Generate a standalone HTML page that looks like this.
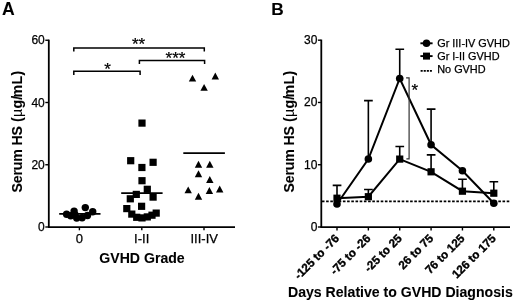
<!DOCTYPE html><html><head><meta charset="utf-8"><style>html,body{margin:0;padding:0;background:#fff;}svg{display:block;will-change:transform;filter:grayscale(1);font-family:"Liberation Sans",sans-serif;}text{font-family:"Liberation Sans",sans-serif;fill:#000;stroke:#000;stroke-width:0.25px;}text[font-weight=bold]{stroke-width:0.08px;}</style></head><body>
<svg width="520" height="306" viewBox="0 0 520 306">
<rect width="520" height="306" fill="#fff"/>
<text x="2" y="14.6" font-size="17.6" font-weight="bold">A</text>
<path d="M48.8 39.65 V227.7 " stroke="#000" stroke-width="1.8" fill="none"/>
<path d="M48.099999999999994 227.1 H235" stroke="#000" stroke-width="1.8" fill="none"/>
<path d="M45.3 227.00 H48.8" stroke="#000" stroke-width="1.4"/>
<text x="44.8" y="230.70" font-size="12" text-anchor="end">0</text>
<path d="M45.3 164.75 H48.8" stroke="#000" stroke-width="1.4"/>
<text x="44.8" y="168.75" font-size="12" text-anchor="end">20</text>
<path d="M45.3 102.50 H48.8" stroke="#000" stroke-width="1.4"/>
<text x="44.8" y="106.50" font-size="12" text-anchor="end">40</text>
<path d="M45.3 40.25 H48.8" stroke="#000" stroke-width="1.4"/>
<text x="44.8" y="44.25" font-size="12" text-anchor="end">60</text>
<path d="M79.4 227.1 V230.3" stroke="#000" stroke-width="1.4"/>
<path d="M141.8 227.1 V230.3" stroke="#000" stroke-width="1.4"/>
<path d="M204.0 227.1 V230.3" stroke="#000" stroke-width="1.4"/>
<text x="79.4" y="243.1" font-size="13" text-anchor="middle">0</text>
<text x="141.7" y="243.1" font-size="13" text-anchor="middle">I-II</text>
<text x="204.2" y="243.1" font-size="13" text-anchor="middle">III-IV</text>
<text x="142" y="263" font-size="14.1" font-weight="bold" text-anchor="middle">GVHD Grade</text>
<text transform="translate(22.3,192.4) rotate(-90)" font-size="14.1" font-weight="bold" text-anchor="start" letter-spacing="-0.15">Serum HS</text>
<text transform="translate(22.3,122.0) rotate(-90)" font-size="14.1" font-weight="bold" text-anchor="start" letter-spacing="0.3">(<tspan font-weight="normal">µ</tspan>g/</text>
<text transform="translate(22.3,70.3) rotate(-90)" font-size="14.1" font-weight="bold" text-anchor="end" letter-spacing="0.45">mL)</text>
<path d="M73.8 51.5 V47.9 H204.3 V51.5" stroke="#000" stroke-width="1.5" fill="none"/>
<path d="M139.4 64.1 V60.5 H204.6 V64.1" stroke="#000" stroke-width="1.5" fill="none"/>
<path d="M73.8 74.89999999999999 V71.3 H140.1 V74.89999999999999" stroke="#000" stroke-width="1.5" fill="none"/>
<text x="138.6" y="50" font-size="17" text-anchor="middle">**</text>
<text x="175.5" y="64.4" font-size="17" text-anchor="middle">***</text>
<text x="107.6" y="75" font-size="17" text-anchor="middle">*</text>
<circle cx="66.6" cy="214.3" r="3.7"/>
<circle cx="74.1" cy="211.1" r="3.7"/>
<circle cx="70.7" cy="215.7" r="3.7"/>
<circle cx="76.7" cy="218.1" r="3.7"/>
<circle cx="82.1" cy="217.7" r="3.7"/>
<circle cx="85.3" cy="207.6" r="3.7"/>
<circle cx="87.5" cy="215.5" r="3.7"/>
<circle cx="92.7" cy="211.7" r="3.7"/>
<circle cx="75" cy="214.6" r="3.7"/>
<path d="M59.2 213.8 H100.5" stroke="#000" stroke-width="1.7"/>
<rect x="127.10" y="157.10" width="7.2" height="7.2"/>
<rect x="138.30" y="163.90" width="7.2" height="7.2"/>
<rect x="149.50" y="158.70" width="7.2" height="7.2"/>
<rect x="138.40" y="177.10" width="7.2" height="7.2"/>
<rect x="143.70" y="185.70" width="7.2" height="7.2"/>
<rect x="132.70" y="190.80" width="7.2" height="7.2"/>
<rect x="126.70" y="195.20" width="7.2" height="7.2"/>
<rect x="149.50" y="193.50" width="7.2" height="7.2"/>
<rect x="138.00" y="202.70" width="7.2" height="7.2"/>
<rect x="123.20" y="205.00" width="7.2" height="7.2"/>
<rect x="152.60" y="209.50" width="7.2" height="7.2"/>
<rect x="128.20" y="210.50" width="7.2" height="7.2"/>
<rect x="148.40" y="211.60" width="7.2" height="7.2"/>
<rect x="133.10" y="213.70" width="7.2" height="7.2"/>
<rect x="138.40" y="214.30" width="7.2" height="7.2"/>
<rect x="143.70" y="213.30" width="7.2" height="7.2"/>
<rect x="138.40" y="119.50" width="7.2" height="7.2"/>
<path d="M121.2 193.1 H162.6" stroke="#000" stroke-width="1.7"/>
<path d="M192.5 74.7 L196.2 81.60000000000001 H188.8 Z"/>
<path d="M204.1 83.9 L207.79999999999998 90.80000000000001 H200.4 Z"/>
<path d="M215.3 72.6 L219.0 79.5 H211.60000000000002 Z"/>
<path d="M198.5 160.8 L202.2 167.70000000000002 H194.8 Z"/>
<path d="M209.8 160.8 L213.5 167.70000000000002 H206.10000000000002 Z"/>
<path d="M198.5 170.3 L202.2 177.20000000000002 H194.8 Z"/>
<path d="M209.8 176 L213.5 182.9 H206.10000000000002 Z"/>
<path d="M188.2 186.4 L191.89999999999998 193.3 H184.5 Z"/>
<path d="M209.4 187 L213.1 193.9 H205.70000000000002 Z"/>
<path d="M219.7 185.6 L223.39999999999998 192.5 H216.0 Z"/>
<path d="M198.5 192.8 L202.2 199.70000000000002 H194.8 Z"/>
<path d="M183.3 153.2 H224.9" stroke="#000" stroke-width="1.7"/>
<text x="271.3" y="14.6" font-size="17.3" font-weight="bold">B</text>
<path d="M321.3 39.589999999999996 V227.7" stroke="#000" stroke-width="1.8" fill="none"/>
<path d="M320.6 227.1 H510" stroke="#000" stroke-width="1.8" fill="none"/>
<path d="M317.9 227.00 H321.3" stroke="#000" stroke-width="1.4"/>
<text x="317.4" y="230.70" font-size="12" text-anchor="end">0</text>
<path d="M317.9 164.73 H321.3" stroke="#000" stroke-width="1.4"/>
<text x="317.4" y="168.73" font-size="12" text-anchor="end">10</text>
<path d="M317.9 102.46 H321.3" stroke="#000" stroke-width="1.4"/>
<text x="317.4" y="106.46" font-size="12" text-anchor="end">20</text>
<path d="M317.9 40.19 H321.3" stroke="#000" stroke-width="1.4"/>
<text x="317.4" y="44.19" font-size="12" text-anchor="end">30</text>
<path d="M337.00 227.1 V230.5" stroke="#000" stroke-width="1.4"/>
<text transform="translate(339.90,239.1) rotate(-45)" font-size="11.7" font-weight="bold" style="stroke-width:0.35px" text-anchor="end">-125 to -76</text>
<path d="M368.36 227.1 V230.5" stroke="#000" stroke-width="1.4"/>
<text transform="translate(371.26,239.1) rotate(-45)" font-size="11.7" font-weight="bold" style="stroke-width:0.35px" text-anchor="end">-75 to -26</text>
<path d="M399.72 227.1 V230.5" stroke="#000" stroke-width="1.4"/>
<text transform="translate(402.62,239.1) rotate(-45)" font-size="11.7" font-weight="bold" style="stroke-width:0.35px" text-anchor="end">-25 to 25</text>
<path d="M431.08 227.1 V230.5" stroke="#000" stroke-width="1.4"/>
<text transform="translate(433.98,239.1) rotate(-45)" font-size="11.7" font-weight="bold" style="stroke-width:0.35px" text-anchor="end">26 to 75</text>
<path d="M462.44 227.1 V230.5" stroke="#000" stroke-width="1.4"/>
<text transform="translate(465.34,239.1) rotate(-45)" font-size="11.7" font-weight="bold" style="stroke-width:0.35px" text-anchor="end">76 to 125</text>
<path d="M493.80 227.1 V230.5" stroke="#000" stroke-width="1.4"/>
<text transform="translate(496.70,239.1) rotate(-45)" font-size="11.7" font-weight="bold" style="stroke-width:0.35px" text-anchor="end">126 to 175</text>
<text x="400.4" y="297.1" font-size="14.1" font-weight="bold" text-anchor="middle">Days Relative to GVHD Diagnosis</text>
<text transform="translate(294.2,192.4) rotate(-90)" font-size="14.1" font-weight="bold" text-anchor="start" letter-spacing="-0.15">Serum HS</text>
<text transform="translate(294.2,122.0) rotate(-90)" font-size="14.1" font-weight="bold" text-anchor="start" letter-spacing="0.3">(<tspan font-weight="normal">µ</tspan>g/</text>
<text transform="translate(294.2,70.3) rotate(-90)" font-size="14.1" font-weight="bold" text-anchor="end" letter-spacing="0.45">mL)</text>
<path d="M321.90000000000003 201.4 H510.2" stroke="#000" stroke-width="1.6" stroke-dasharray="2.6 1.6" fill="none"/>
<path d="M368.36 159.0 V100.6 M364.06 100.6 H372.76" stroke="#000" stroke-width="1.6" fill="none"/>
<path d="M399.72 78.5 V49.2 M395.42 49.2 H404.12" stroke="#000" stroke-width="1.6" fill="none"/>
<path d="M431.08 144.8 V109.1 M426.78 109.1 H435.48" stroke="#000" stroke-width="1.6" fill="none"/>
<path d="M337.00 198.2 V185.4 M332.70 185.4 H341.40" stroke="#000" stroke-width="1.6" fill="none"/>
<path d="M368.36 196.7 V189.5 M364.06 189.5 H372.76" stroke="#000" stroke-width="1.6" fill="none"/>
<path d="M399.72 159.1 V146.5 M395.42 146.5 H404.12" stroke="#000" stroke-width="1.6" fill="none"/>
<path d="M431.08 171.8 V154.9 M426.78 154.9 H435.48" stroke="#000" stroke-width="1.6" fill="none"/>
<path d="M462.44 191.2 V179.3 M458.14 179.3 H466.84" stroke="#000" stroke-width="1.6" fill="none"/>
<path d="M493.80 193.2 V181.8 M489.50 181.8 H498.20" stroke="#000" stroke-width="1.6" fill="none"/>
<path d="M337.00 204.0 L368.36 159.0 L399.72 78.5 L431.08 144.8 L462.44 170.8 L493.80 203.3" stroke="#000" stroke-width="2" fill="none"/>
<path d="M337.00 198.2 L368.36 196.7 L399.72 159.1 L431.08 171.8 L462.44 191.2 L493.80 193.2" stroke="#000" stroke-width="2" fill="none"/>
<circle cx="337.00" cy="204.0" r="3.8"/>
<circle cx="368.36" cy="159.0" r="3.8"/>
<circle cx="399.72" cy="78.5" r="3.8"/>
<circle cx="431.08" cy="144.8" r="3.8"/>
<circle cx="462.44" cy="170.8" r="3.8"/>
<circle cx="493.80" cy="203.3" r="3.8"/>
<rect x="333.40" y="194.60" width="7.2" height="7.2"/>
<rect x="364.76" y="193.10" width="7.2" height="7.2"/>
<rect x="396.12" y="155.50" width="7.2" height="7.2"/>
<rect x="427.48" y="168.20" width="7.2" height="7.2"/>
<rect x="458.84" y="187.60" width="7.2" height="7.2"/>
<rect x="490.20" y="189.60" width="7.2" height="7.2"/>
<path d="M406.1 77.8 H409.1 V158.8 H406.4" stroke="#333" stroke-width="1.2" fill="none"/>
<text x="414.9" y="96.1" font-size="17" text-anchor="middle">*</text>
<path d="M420.4 43.3 H432.6" stroke="#000" stroke-width="1.9"/><circle cx="426.5" cy="43.3" r="3.8"/>
<path d="M420.4 56.1 H432.6" stroke="#000" stroke-width="1.9"/><rect x="423" y="52.6" width="7" height="7"/>
<path d="M420.6 70.9 H431.9" stroke="#000" stroke-width="1.9" stroke-dasharray="2.1 1"/>
<text x="437.2" y="46.80" font-size="10.9">Gr III-IV GVHD</text>
<text x="437.2" y="59.80" font-size="10.9">Gr I-II GVHD</text>
<text x="437.2" y="72.80" font-size="10.9">No GVHD</text>
</svg></body></html>
